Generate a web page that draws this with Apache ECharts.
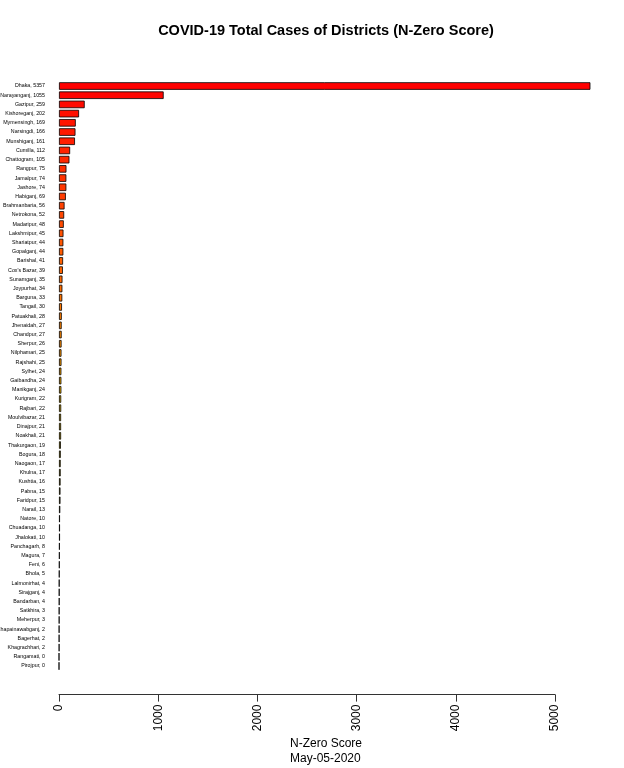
<!DOCTYPE html>
<html>
<head>
<meta charset="utf-8" />
<title>COVID-19 Total Cases of Districts</title>
<script src="https://cdn.jsdelivr.net/npm/echarts@6/dist/echarts.min.js"></script>
<style>
  html, body { margin: 0; padding: 0; background: #fff; }
  #chart { width: 624px; height: 768px; }
</style>
</head>
<body>
<div id="chart"></div>
<script type="text/javascript">
// districts, top to bottom
var districts = ['Dhaka', 'Narayanganj', 'Gazipur', 'Kishoreganj', 'Mymensingh', 'Narsingdi', 'Munshiganj',
  'Cumilla', 'Chattogram', 'Rangpur', 'Jamalpur', 'Jashore', 'Habiganj', 'Brahmanbaria', 'Netrokona',
  'Madaripur', 'Lakshmipur', 'Shariatpur', 'Gopalganj', 'Barishal', "Cox's Bazar", 'Sunamganj', 'Joypurhat',
  'Barguna', 'Tangail', 'Patuakhali', 'Jhenaidah', 'Chandpur', 'Sherpur', 'Nilphamari', 'Rajshahi', 'Sylhet',
  'Gaibandha', 'Manikganj', 'Kurigram', 'Rajbari', 'Moulvibazar', 'Dinajpur', 'Noakhali', 'Thakurgaon',
  'Bogura', 'Naogaon', 'Khulna', 'Kushtia', 'Pabna', 'Faridpur', 'Narail', 'Natore', 'Chuadanga', 'Jhalokati',
  'Panchagarh', 'Magura', 'Feni', 'Bhola', 'Lalmonirhat', 'Sirajganj', 'Bandarban', 'Satkhira', 'Meherpur',
  'Chapainawabganj', 'Bagerhat', 'Khagrachhari', 'Rangamati', 'Pirojpur'];
// total cases (N-Zero score)
var cases = [5357, 1055, 259, 202, 169, 166, 161, 112, 105, 75, 74, 74, 69, 56, 52, 48, 45, 44, 44, 41, 39, 35,
  34, 33, 30, 28, 27, 27, 26, 25, 25, 24, 24, 24, 22, 22, 21, 21, 21, 19, 18, 17, 17, 16, 15, 15, 13, 10, 10, 10,
  8, 7, 6, 5, 4, 4, 4, 3, 3, 2, 2, 2, 0, 0];
var xTicks = [0, 1000, 2000, 3000, 4000, 5000];

// colour ramp: red -> orange -> gold -> olive -> black -> grey
var rampStops = [[0, [255, 0, 0]], [28, [255, 140, 0]], [34, [240, 185, 0]], [40, [190, 160, 0]],
  [46, [110, 100, 20]], [51, [0, 0, 0]], [63, [165, 165, 165]]];
function rampColor(i) {
  for (var k = 0; k < rampStops.length - 1; k++) {
    var a = rampStops[k], b = rampStops[k + 1];
    if (i <= b[0]) {
      var t = (i - a[0]) / (b[0] - a[0]);
      var c = a[1].map(function (v, j) { return Math.round(v + (b[1][j] - v) * t); });
      return 'rgb(' + c.join(',') + ')';
    }
  }
  return 'rgb(165,165,165)';
}

var yLabels = districts.map(function (d, i) { return d + ', ' + cases[i]; });
var barData = cases.map(function (v, i) {
  return { value: v, itemStyle: { color: rampColor(i) } };
});

var myChart = echarts.init(document.getElementById('chart'));
var option = {
  animation: false,
  grid: { left: 59, top: 81.4, width: 496, height: 589.2, containLabel: false, outerBoundsMode: 'none' },
  xAxis: {
    type: 'value', min: 0, max: 5000, interval: 1000,
    offset: 24,
    axisLine: { show: true, lineStyle: { color: '#333', width: 1 } },
    axisTick: { show: true, length: 7, lineStyle: { color: '#333' } },
    axisLabel: {
      rotate: 90, margin: 10, padding: [0, 0, 0, 0], fontFamily: 'Liberation Sans', fontSize: 12, color: '#000',
      formatter: function (v) { return xTicks.indexOf(v) >= 0 ? String(v) : ''; }
    },
    splitLine: { show: false }
  },
  yAxis: {
    type: 'category', inverse: true, data: yLabels,
    axisLine: { show: false }, axisTick: { show: false },
    axisLabel: { interval: 0, margin: 14, fontFamily: 'Liberation Sans', fontSize: 5.3, color: '#000' }
  },
  series: [{
    type: 'bar', data: barData, barWidth: '82%', clip: false,
    itemStyle: { borderColor: '#000', borderWidth: 0.8 }
  }],
  graphic: [
    { type: 'text', x: 326, y: 31,
      style: { text: 'COVID-19 Total Cases of Districts (N-Zero Score)', align: 'center', verticalAlign: 'middle',
        font: 'bold 14.5px "Liberation Sans"', fill: '#000' } },
    { type: 'text', left: 290, top: 738,
      style: { text: 'N-Zero Score', font: '12px "Liberation Sans"', fill: '#000' } },
    { type: 'text', left: 290, top: 753,
      style: { text: 'May-05-2020', font: '12px "Liberation Sans"', fill: '#000' } }
  ]
};
myChart.setOption(option);
</script>
</body>
</html>
